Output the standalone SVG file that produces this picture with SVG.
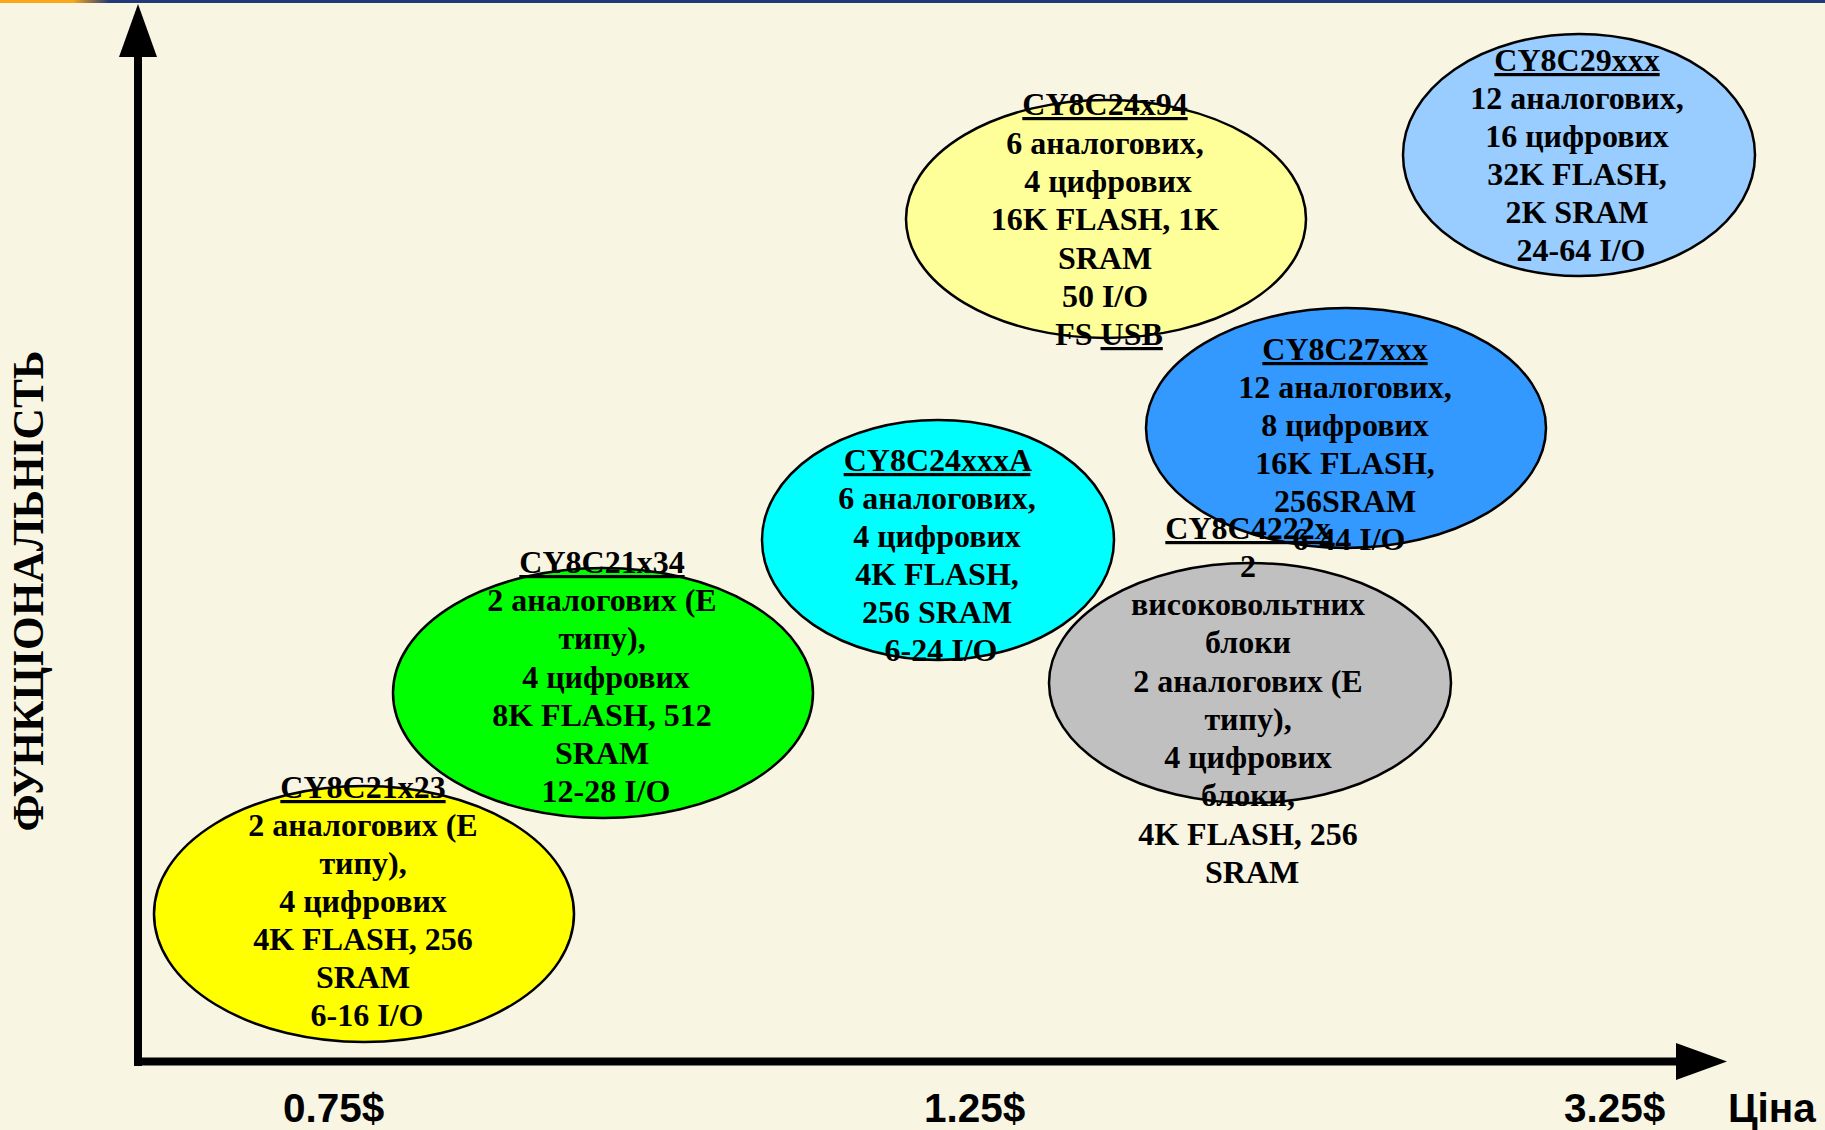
<svg xmlns="http://www.w3.org/2000/svg" width="1825" height="1130" viewBox="0 0 1825 1130">
<defs>
<linearGradient id="topbar" gradientUnits="userSpaceOnUse" x1="0" y1="0" x2="1825" y2="0">
<stop offset="0" stop-color="#F7A81B"/>
<stop offset="0.04" stop-color="#F7A81B"/>
<stop offset="0.06" stop-color="#22397A"/>
<stop offset="1" stop-color="#22397A"/>
</linearGradient>
<style>
.node ellipse { stroke:#000; stroke-width:2.5; }
.lbl { font-family:"Liberation Serif","Times New Roman",serif; font-weight:bold; font-size:32px; fill:#000; text-anchor:middle; }
.ttl { text-decoration:underline; }
.axis { font-family:"Liberation Sans",Arial,sans-serif; font-weight:bold; font-size:40.5px; fill:#000; }
.ylab { font-family:"Liberation Serif","Times New Roman",serif; font-weight:bold; font-size:43.4px; fill:#000; text-anchor:middle; }
</style>
</defs>
<rect x="0" y="0" width="1825" height="1130" fill="#F8F5E3"/>
<rect x="0" y="0" width="1825" height="3" fill="url(#topbar)"/>

<g id="axes">
<rect x="134" y="50" width="8" height="1016"/>
<polygon points="138,4 119,57 157,57"/>
<rect x="134" y="1057.5" width="1548" height="8"/>
<polygon points="1727,1061.5 1676,1043 1676,1080"/>
</g>

<g id="axis-labels">
<text class="ylab" transform="translate(43,591) rotate(-90)">ФУНКЦІОНАЛЬНІСТЬ</text>
<text class="axis" x="283" y="1122">0.75$</text>
<text class="axis" x="924" y="1122">1.25$</text>
<text class="axis" x="1564" y="1122">3.25$</text>
<text class="axis" x="1728" y="1122">Ціна</text>
</g>

<g id="CY8C21x23" class="node">
<ellipse cx="364" cy="914" rx="210" ry="128" fill="#FFFF00"/>
<text class="lbl">
<tspan class="ttl" x="367" y="798">CY8C21x23</tspan>
<tspan x="367" y="836">2 аналогових (E</tspan>
<tspan x="367" y="874">типу),</tspan>
<tspan x="367" y="912">4 цифрових</tspan>
<tspan x="367" y="950">4K FLASH, 256</tspan>
<tspan x="367" y="988">SRAM</tspan>
<tspan x="367" y="1026">6-16 I/O</tspan>
</text>
</g>

<g id="CY8C21x34" class="node">
<ellipse cx="603" cy="693" rx="210" ry="125" fill="#00FF00"/>
<text class="lbl">
<tspan class="ttl" x="606" y="573">CY8C21x34</tspan>
<tspan x="606" y="611">2 аналогових (E</tspan>
<tspan x="606" y="649">типу),</tspan>
<tspan x="610" y="688">4 цифрових</tspan>
<tspan x="606" y="726">8K FLASH, 512</tspan>
<tspan x="606" y="764">SRAM</tspan>
<tspan x="606" y="802">12-28 I/O</tspan>
</text>
</g>

<g id="CY8C24xxxA" class="node">
<ellipse cx="938" cy="540" rx="176" ry="120" fill="#00FFFF"/>
<text class="lbl">
<tspan class="ttl" x="941" y="471">CY8C24xxxA</tspan>
<tspan x="941" y="509">6 аналогових,</tspan>
<tspan x="941" y="547">4 цифрових</tspan>
<tspan x="941" y="585">4K FLASH,</tspan>
<tspan x="941" y="623">256 SRAM</tspan>
<tspan x="941" y="661">6-24 I/O</tspan>
</text>
</g>

<g id="CY8C24x94" class="node">
<ellipse cx="1106" cy="219" rx="200" ry="119" fill="#FFFF99"/>
<text class="lbl">
<tspan class="ttl" x="1109" y="115">CY8C24x94</tspan>
<tspan x="1109" y="154">6 аналогових,</tspan>
<tspan x="1112" y="192">4 цифрових</tspan>
<tspan x="1109" y="230">16K FLASH, 1K</tspan>
<tspan x="1109" y="269">SRAM</tspan>
<tspan x="1109" y="307">50 I/O</tspan>
<tspan x="1109" y="345">FS <tspan class="ttl">USB</tspan></tspan>
</text>
</g>

<g id="CY8C29xxx" class="node">
<ellipse cx="1579" cy="155" rx="176" ry="121" fill="#99CCFF"/>
<text class="lbl">
<tspan class="ttl" x="1581" y="71">CY8C29xxx</tspan>
<tspan x="1581" y="109">12 аналогових,</tspan>
<tspan x="1581" y="147">16 цифрових</tspan>
<tspan x="1581" y="185">32K FLASH,</tspan>
<tspan x="1581" y="223">2K SRAM</tspan>
<tspan x="1581" y="261">24-64 I/O</tspan>
</text>
</g>

<g id="CY8C27xxx" class="node">
<ellipse cx="1346" cy="428" rx="200" ry="120" fill="#3399FF"/>
<text class="lbl">
<tspan class="ttl" x="1349" y="360">CY8C27xxx</tspan>
<tspan x="1349" y="398">12 аналогових,</tspan>
<tspan x="1349" y="436">8 цифрових</tspan>
<tspan x="1349" y="474">16K FLASH,</tspan>
<tspan x="1349" y="512">256SRAM</tspan>
<tspan x="1349" y="550">6-44 I/O</tspan>
</text>
</g>

<g id="CY8C4222x" class="node">
<ellipse cx="1250" cy="683" rx="201" ry="120" fill="#C0C0C0"/>
<text class="lbl">
<tspan class="ttl" x="1252" y="539">CY8C4222x</tspan>
<tspan x="1252" y="577">2</tspan>
<tspan x="1252" y="615">високовольтних</tspan>
<tspan x="1252" y="653">блоки</tspan>
<tspan x="1252" y="692">2 аналогових (E</tspan>
<tspan x="1252" y="730">типу),</tspan>
<tspan x="1252" y="768">4 цифрових</tspan>
<tspan x="1252" y="806">блоки,</tspan>
<tspan x="1252" y="845">4K FLASH, 256</tspan>
<tspan x="1252" y="883">SRAM</tspan>
</text>
</g>
</svg>
